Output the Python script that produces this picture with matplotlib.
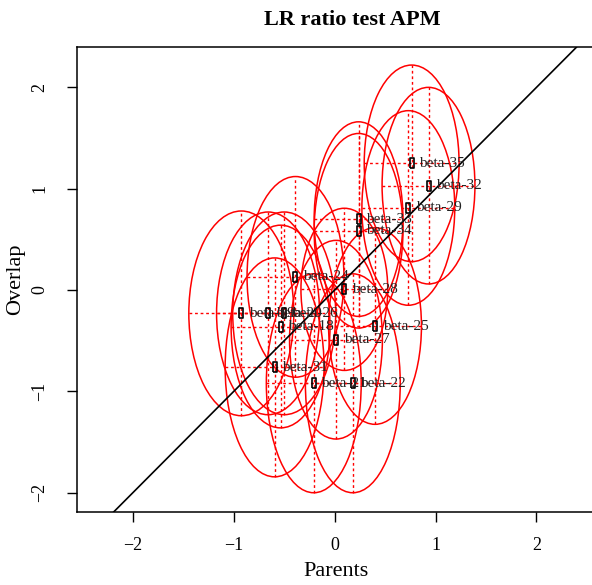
import numpy as np
import matplotlib.pyplot as plt
from matplotlib.patches import Ellipse

# estimates (Parents, Overlap) and half-widths of the intervals
labels = ["beta-35", "beta-32", "beta-29", "beta-33", "beta-34", "beta-24", "beta-28",
          "beta-19", "beta-20", "beta-26", "beta-18", "beta-25", "beta-27", "beta-31",
          "beta-21", "beta-22"]
parents = [0.763, 0.93, 0.73, 0.237, 0.237, -0.388, 0.096,
           -0.925, -0.66, -0.50, -0.536, 0.40, 0.013, -0.595,
           -0.207, 0.18]
overlap = [1.25, 1.03, 0.81, 0.70, 0.585, 0.13, 0.007,
           -0.23, -0.23, -0.23, -0.36, -0.355, -0.49, -0.763,
           -0.92, -0.92]
parents_hw = [0.47, 0.46, 0.46, 0.44, 0.44, 0.48, 0.43,
              0.52, 0.51, 0.51, 0.49, 0.46, 0.46, 0.49,
              0.47, 0.47]
overlap_hw = [0.97, 0.97, 0.96, 0.96, 0.96, 0.99, 0.80,
              1.01, 1.00, 1.00, 1.00, 0.97, 0.98, 1.08,
              1.08, 1.08]

plt.rcParams['font.family'] = ['Liberation Serif', 'DejaVu Serif']

fig = plt.figure(figsize=(5.92, 5.85), dpi=100)
ax = fig.add_axes([0.1306, 0.1248, 0.8728, 0.7943])

red = '#FF0000'
dots = (0, (2, 2))
for x, y, a, b in zip(parents, overlap, parents_hw, overlap_hw):
    ax.add_patch(Ellipse((x, y), 2 * a, 2 * b, fill=False, edgecolor=red, lw=1.1))
    ax.plot([x - a, x + a], [y, y], color=red, lw=1, linestyle=dots)
    ax.plot([x, x], [y - b, y + b], color=red, lw=1, linestyle=dots)

ax.axline((0, 0), slope=1, color='black', lw=1.2)

box = [(-0.5, -1), (0.5, -1), (0.5, 1), (-0.5, 1), (-0.5, -1)]
ax.plot(parents, overlap, linestyle='none', marker=box, markersize=6.5,
        markerfacecolor='none', markeredgecolor='black', markeredgewidth=1.2)
for lab, x, y in zip(labels, parents, overlap):
    ax.annotate(lab, (x, y), xytext=(5.5, 0), textcoords='offset points',
                ha='left', va='center', fontsize=11, color='#222222')

ax.set_xlim(-2.55, 2.57)
ax.set_ylim(-2.19, 2.395)
ax.set_xticks([-2, -1, 0, 1, 2])
ax.set_yticks([-2, -1, 0, 1, 2])
ax.tick_params(axis='x', length=7, width=1, pad=11, labelsize=13)
ax.tick_params(axis='y', length=7, width=1, pad=14, labelsize=13)
for t in ax.get_yticklabels():
    t.set_rotation(90)
    t.set_va('center')
for s in ax.spines.values():
    s.set_linewidth(1.1)

ax.set_xlabel("Parents", fontsize=16, labelpad=6)
ax.set_ylabel("Overlap", fontsize=16, labelpad=4)
fig.text(352 / 592, 1 - 20 / 585, "LR ratio test APM", ha='center', va='center',
         fontsize=16, fontweight='bold')

fig.savefig("out.png", dpi=100)
